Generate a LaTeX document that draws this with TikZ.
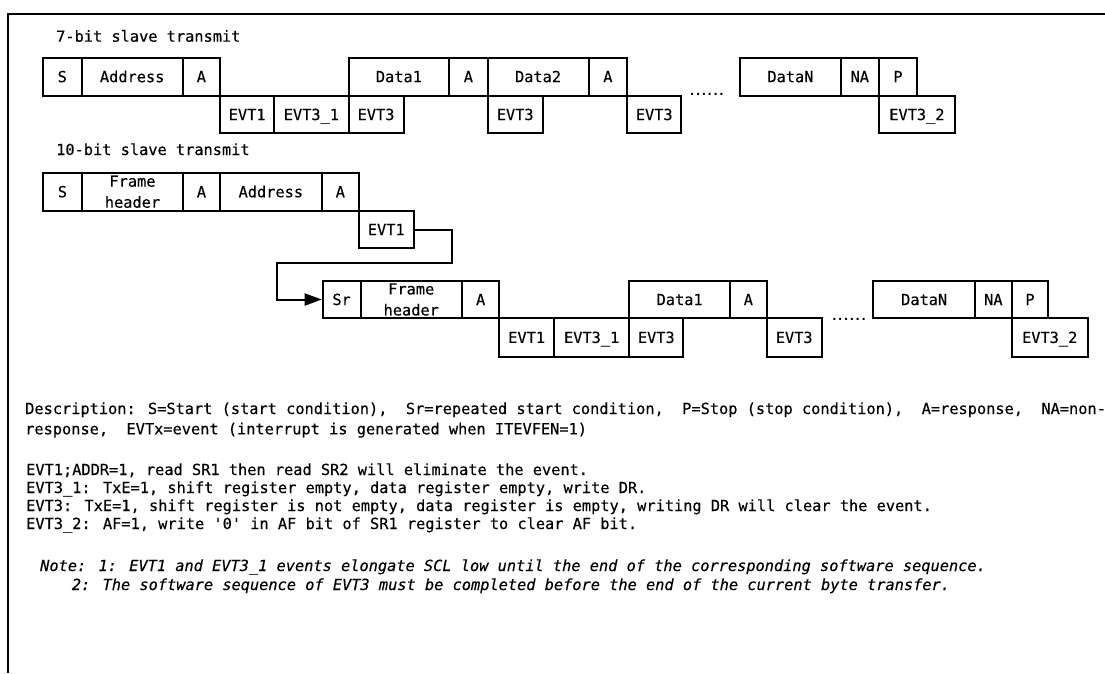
\documentclass[tikz,border=0pt]{standalone}
\usepackage{fontspec}
\newfontfamily\mono[FakeBold=0.3]{DejaVu Sans Mono}
\newfontfamily\monodots{DejaVu Sans Mono Bold}
\usetikzlibrary{arrows.meta}
\newcommand\lblfont{\mono\fontsize{15.3}{18}\selectfont}
\newcommand\twofont{\mono\fontsize{15.3}{21}\selectfont}
\newcommand\dotfont{\monodots\fontsize{12}{12}\selectfont}
\newcommand\sixdots{.\kern-1.4pt.\kern-1.4pt.\kern-1.4pt.\kern-1.4pt.\kern-1.4pt.}
\tikzset{
  box/.style={draw, line width=2pt, inner sep=0pt, font=\lblfont, text height=11.1pt, text depth=0pt},
  twoline/.style={align=center, inner sep=0pt, font=\twofont},
  txt/.style={anchor=base west, inner sep=0pt, font=\lblfont},
  itxt/.style={anchor=base west, inner sep=0pt, font=\lblfont\itshape},
  dots/.style={anchor=base west, inner sep=0pt, font=\dotfont},
  conn/.style={line width=2pt, -{Triangle[length=17pt,width=12pt]}},
  frame/.style={line width=2pt},
}
\newcommand\bx[6]{\node[box, minimum width={(#3-#2)*1pt}, minimum height={(#5-#4)*1pt}] (#1) at ({(#2+#3)/2},{(#4+#5)/2}) {#6};}
\begin{document}
\begin{tikzpicture}[x=1pt,y=-1pt]
\useasboundingbox (0,0) rectangle (1105,673);
% frame
\draw[frame] (1105,13.5) -- (7.8,13.5) -- (7.8,673);

% ---- 7-bit
\node[txt] (t1) at (56,41.7) {7-bit slave transmit};
\bx{r1s}{42.8}{81.7}{57.5}{95.7}{S}
\bx{r1ad}{81.7}{182.7}{57.5}{95.7}{Address}
\bx{r1a}{182.7}{220}{57.5}{95.7}{A}
\bx{r1e1}{220}{274.3}{95.7}{133.3}{EVT1}
\bx{r1e31}{274.3}{348.5}{95.7}{133.3}{EVT3\_1}
\bx{r1e3a}{348.5}{403.6}{95.7}{133.3}{EVT3}
\bx{r1d1}{348.5}{449.3}{57.5}{95.7}{Data1}
\bx{r1a2}{449.3}{487.5}{57.5}{95.7}{A}
\bx{r1d2}{487.5}{588.6}{57.5}{95.7}{Data2}
\bx{r1a3}{588.6}{627.2}{57.5}{95.7}{A}
\bx{r1e3b}{487.5}{542.9}{95.7}{133.3}{EVT3}
\bx{r1e3c}{627.2}{681.3}{95.7}{133.3}{EVT3}
\node[dots] (r1dots) at (688.5,95.3) {\sixdots};
\bx{r1dn}{740}{840.9}{57.5}{95.7}{DataN}
\bx{r1na}{840.9}{878.7}{57.5}{95.7}{NA}
\bx{r1p}{878.7}{917.3}{57.5}{95.7}{P}
\bx{r1e32}{878.7}{955.1}{95.7}{133.3}{EVT3\_2}

% ---- 10-bit
\node[txt] (t2) at (56,155) {10-bit slave transmit};
\bx{r2s}{42.8}{82.1}{172.7}{210.7}{S}
\bx{r2fh}{82.1}{182.9}{172.7}{210.7}{}
\node[twoline] (r2fhl) at (r2fh.center) {Frame\\header};
\bx{r2a}{182.9}{220}{172.7}{210.7}{A}
\bx{r2ad}{220}{321.7}{172.7}{210.7}{Address}
\bx{r2a2}{321.7}{359}{172.7}{210.7}{A}
\bx{r2e1}{359}{413.5}{210.7}{248.3}{EVT1}

\coordinate (bendA) at (452,263);
\coordinate (bendB) at (277,263);

\bx{r3sr}{322.7}{360.5}{280.7}{318.3}{Sr}
\bx{r3fh}{360.5}{462}{280.7}{318.3}{}
\node[twoline] (r3fhl) at (r3fh.center) {Frame\\header};
\bx{r3a}{462}{499.3}{280.7}{318.3}{A}
\bx{r3e1}{499.3}{554}{318.3}{356.5}{EVT1}
\bx{r3e31}{554}{629.3}{318.3}{356.5}{EVT3\_1}
\bx{r3e3a}{629.3}{683.3}{318.3}{356.5}{EVT3}
\bx{r3d1}{629.3}{730}{280.7}{318.3}{Data1}
\bx{r3a2}{730}{766.7}{280.7}{318.3}{A}
\bx{r3e3b}{766.7}{821.7}{318.3}{356.5}{EVT3}
\node[dots] (r3dots) at (830.7,320.5) {\sixdots};
\bx{r3dn}{873.3}{975}{280.7}{318.3}{DataN}
\bx{r3na}{975}{1011.7}{280.7}{318.3}{NA}
\bx{r3p}{1011.7}{1048.3}{280.7}{318.3}{P}
\bx{r3e32}{1011.7}{1087.7}{318.3}{356.5}{EVT3\_2}

\draw[conn] (r2e1.east) -| (bendA) -- (bendB) |- (r3sr.west);

% ---- text
\node[txt] (desc1) at (25,414) {Description: S=Start (start condition),\ \ Sr=repeated start condition,\ \ P=Stop (stop condition),\ \ A=response,\ \ NA=non-};
\node[txt] (desc2) at (25,434.3) {response,\ \ EVTx=event (interrupt is generated when ITEVFEN=1)};
\node[txt] (ev1) at (26,475) {EVT1;ADDR=1, read SR1 then read SR2 will eliminate the event.};
\node[txt] (ev2) at (26,493) {EVT3\_1: TxE=1, shift register empty, data register empty, write DR.};
\node[txt] (ev3) at (26,511) {EVT3: TxE=1, shift register is not empty, data register is empty, writing DR will clear the event.};
\node[txt] (ev4) at (26,529) {EVT3\_2: AF=1, write \textquotesingle0\textquotesingle\ in AF bit of SR1 register to clear AF bit.};
\node[itxt] (n1) at (40,571) {Note: 1: EVT1 and EVT3\_1 events elongate SCL low until the end of the corresponding software sequence.};
\node[itxt] (n2) at (71.7,590) {2: The software sequence of EVT3 must be completed before the end of the current byte transfer.};
\end{tikzpicture}
\end{document}
